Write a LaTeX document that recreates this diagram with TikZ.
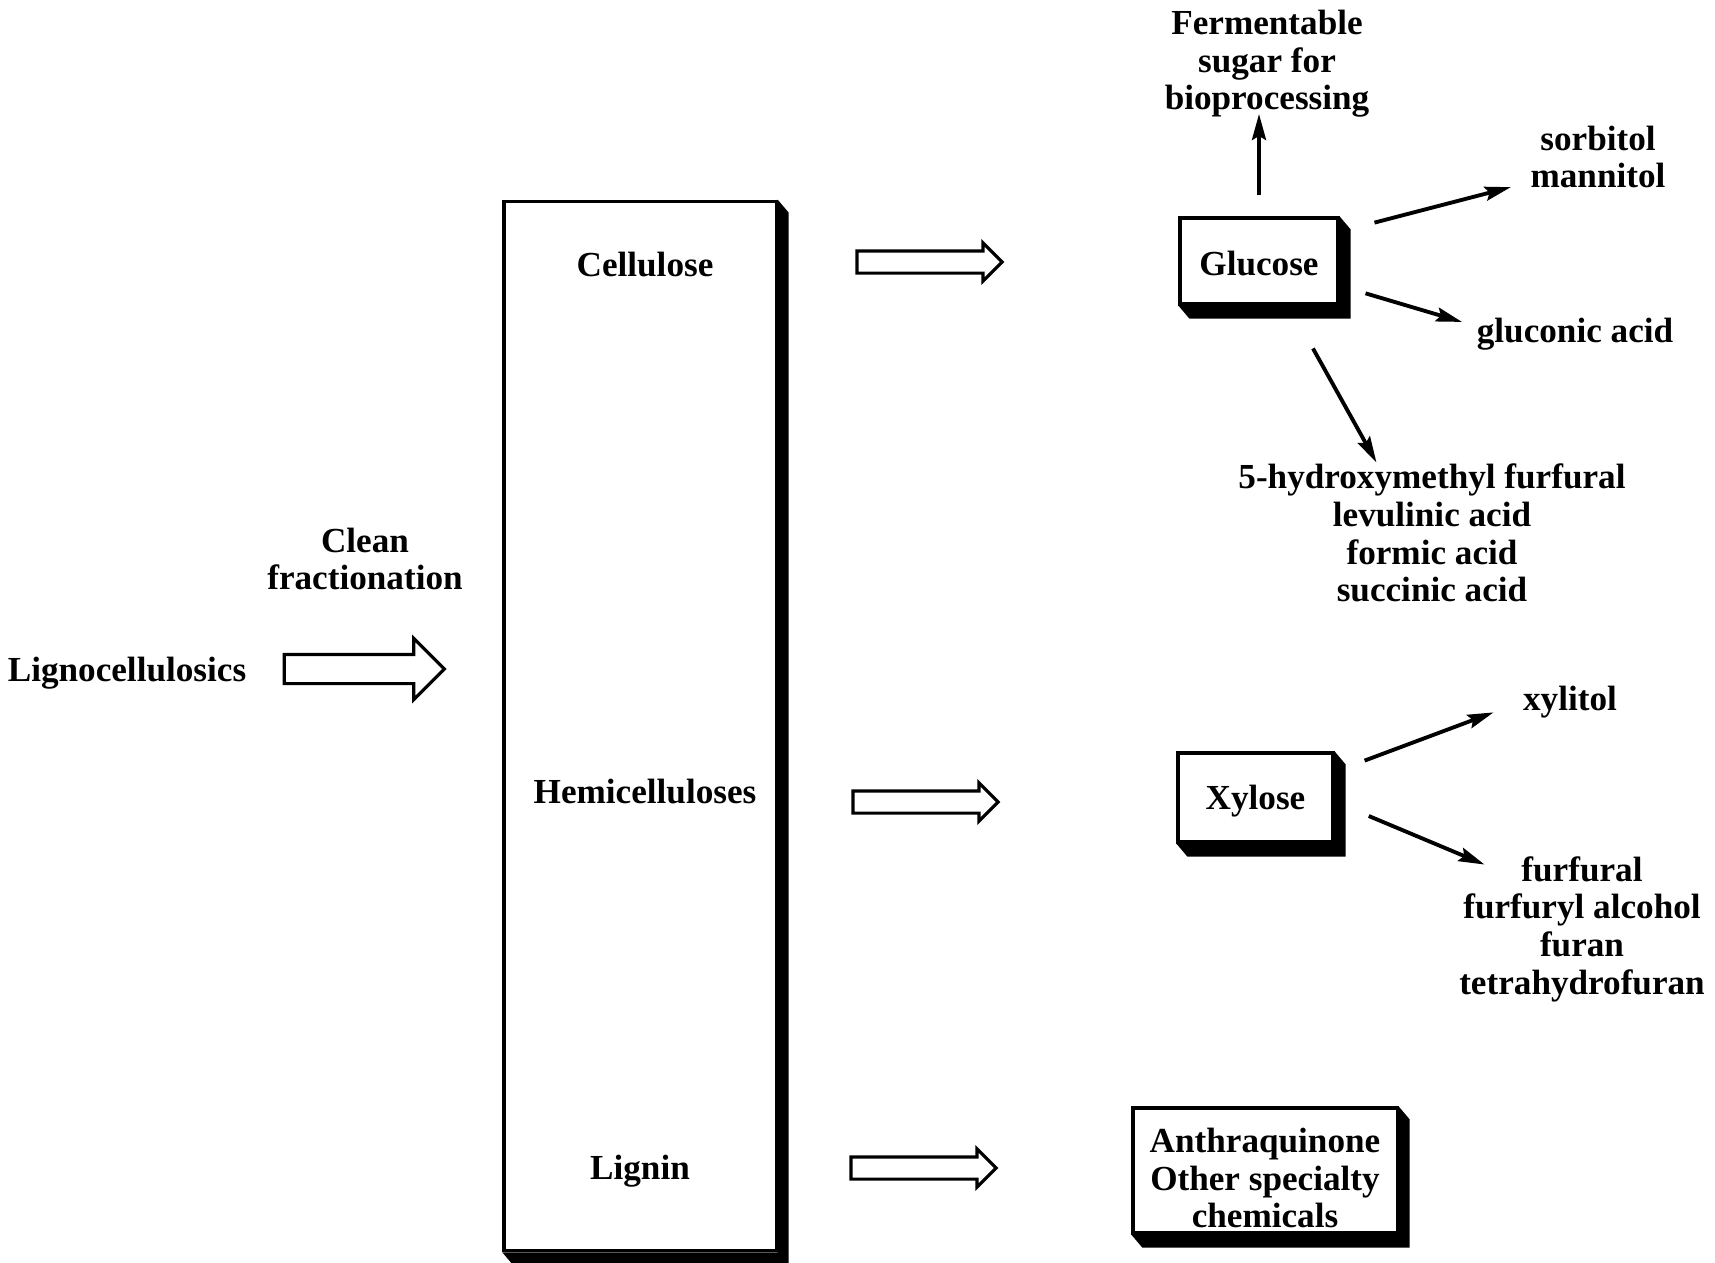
\documentclass[tikz,border=0pt]{standalone}
\usepackage{fontspec}
\setmainfont{Liberation Serif}
\usepackage{tikz}
\usetikzlibrary{arrows.meta,positioning,shapes.arrows,calc}
\newcommand{\dropln}[2]{\raisebox{-#1}[\height][\depth]{#2}}

\begin{document}
\begin{tikzpicture}[x=0.01cm, y=-0.01cm, font=\fontsize{10}{10.7}\selectfont\bfseries, >={Stealth[length=0.26cm,width=0.14cm,inset=0.04cm]},
  bx/.style={draw, line width=0.9pt, fill=white, inner sep=0pt, align=center},
  lbl/.style={inner sep=1pt, align=center},
  fat/.style={single arrow, draw, line width=0.9pt, inner xsep=0pt, inner ysep=#1, minimum height=1.45cm, single arrow head extend=0.08cm},
  fat/.default=0.095cm,
  arr/.style={->, line width=1.1pt}]
\useasboundingbox (0,0) rectangle (1715,1262);
% left side
\node[lbl] (lig) at (127,673) {Lignocellulosics};
\node[lbl] (clean) at (365,559) {Clean\\fractionation};
\node[fat=0.13cm, minimum height=1.6cm, single arrow head extend=0.16cm] (fr) at (357,669) {};
% fractions
\node[bx, minimum width=2.72cm, minimum height=10.49cm] (comp) at (640,726) {};
\node[lbl] (cel) at (645,264) {Cellulose};
\node[lbl] (hem) at (645,791) {Hemicelluloses};
\node[lbl] (lgn) at (640,1171) {Lignin};
\node[fat] (a1) at (924,262) {};
\node[fat] (a2) at (920,802) {};
\node[fat] (a3) at (918,1168) {};
% products
\node[bx, minimum width=1.58cm, minimum height=0.86cm] (glu) at (1259,261) {\dropln{0.85pt}{Glucose}};
\node[bx, minimum width=1.55cm, minimum height=0.89cm] (xyl) at (1255.5,797.5) {\dropln{1.1pt}{Xylose}};
\node[bx, minimum width=2.64cm, minimum height=1.25cm] (anth) at (1265,1170.5) {\dropln{2.2pt}{Anthraquinone}\\\dropln{2.2pt}{Other specialty}\\\dropln{2.2pt}{chemicals}};
\foreach \b in {comp,glu,xyl,anth}
  \fill (\b.north east) -- ++(11,13) -- ($(\b.south east)+(11,13)$) -- ($(\b.south west)+(11,13)$) -- (\b.south west) -- (\b.south east) -- cycle;
\node[lbl] (ferm) at (1267,64) {Fermentable\\sugar for\\bioprocessing};
\node[lbl] (sorb) at (1598,157) {sorbitol\\mannitol};
\node[lbl] (gluc) at (1575,334) {gluconic acid};
\node[lbl] (hmf) at (1432,533) {5-hydroxymethyl furfural\\levulinic acid\\formic acid\\succinic acid};
\node[lbl] (xlt) at (1570,702) {xylitol};
\node[lbl] (fur) at (1582,929) {furfural\\furfuryl alcohol\\furan\\tetrahydrofuran};
% reactions
\draw[arr, shorten <=0.21cm, shorten >=-0.08cm] (glu.north) -- (glu.north |- ferm.south);
\draw[arr, shorten <=0.36cm, shorten >=0.16cm] (glu.20) -- (sorb.200);
\draw[arr, shorten <=0.27cm, shorten >=0.11cm] (glu.-17) -- (gluc.175);
\draw[arr, shorten <=0.49cm, shorten >=-0.03cm] (glu.-56) -- ([xshift=-0.57cm]hmf.north);
\draw[arr, shorten <=0.32cm, shorten >=0.27cm] (xyl.18) -- (xlt.181);
\draw[arr, shorten <=0.37cm, shorten >=-0.32cm] (xyl.-3) -- (fur.north west);
\end{tikzpicture}
\end{document}
